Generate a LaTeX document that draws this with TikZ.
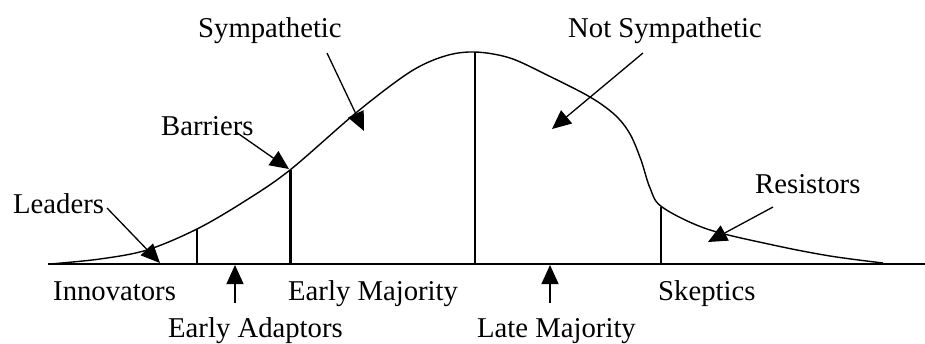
\documentclass[tikz,border=0pt]{standalone}
\usepackage{fontspec}
\setmainfont{Liberation Serif}
\usetikzlibrary{arrows.meta}
\begin{document}
\begin{tikzpicture}[x=1pt,y=-1pt,
  lbl/.style={anchor=base west,inner sep=0pt,font=\fontsize{28.7}{30}\selectfont},
  ptr/.style={line width=1.3pt,-{Triangle[length=19pt,width=17pt]}},
  curve/.style={line width=1.4pt},
  divider/.style={line width=1.3pt}]
\useasboundingbox (0,0) rectangle (925,343);
% axis
\coordinate (axL) at (48,264);
\coordinate (axR) at (925,264);
\draw[line width=1.4pt] (axL) -- (axR);
% bell curve
\draw[curve] plot[smooth,tension=0.55] coordinates {
 (50,264) (100,259) (147,250) (197,229) (245,201) (290,170) (357,112) (410,72)
 (445,56) (475,52) (510,58) (547,75) (590,97) (615,115) (630,134) (641,160) (650,188)
 (662,207) (707,229) (773,245) (830,256) (883,263)};
% dividers
\coordinate (d1b) at (197,264); \coordinate (d1t) at (197,229);
\coordinate (d2b) at (290,264); \coordinate (d2t) at (290,170);
\coordinate (d3b) at (475,264); \coordinate (d3t) at (475,52);
\coordinate (d4b) at (661,264); \coordinate (d4t) at (661,207);
\draw[divider] (d1b) -- (d1t);
\draw[line width=3pt] (d2b) -- (d2t);
\draw[divider] (d3b) -- (d3t);
\draw[divider] (d4b) -- (d4t);
% labels
\node[lbl] (leaders) at (13,213) {Leaders};
\node[lbl] (barriers) at (161,135) {Barriers};
\node[lbl] (symp) at (198,37) {Sympathetic};
\node[lbl] (notsymp) at (568,37) {Not Sympathetic};
\node[lbl] (resist) at (755,193) {Resistors};
\node[lbl] (innov) at (53,300) {Innovators};
\node[lbl] (eadapt) at (168,337) {Early Adaptors};
\node[lbl] (emaj) at (288,300) {Early Majority};
\node[lbl] (lmaj) at (477,337) {Late Majority};
\node[lbl] (skep) at (658,300) {Skeptics};
% pointer ends
\coordinate (leadS) at (107,208); \coordinate (leadT) at (160,263);
\coordinate (barS) at (236,132); \coordinate (barT) at (289,169);
\coordinate (sympS) at (327,53); \coordinate (sympT) at (364,131);
\coordinate (nsS) at (643,53); \coordinate (nsT) at (552,129);
\coordinate (resS) at (773,207); \coordinate (resT) at (708,242);
\coordinate (eaS) at (235,303); \coordinate (eaT) at (235,265);
\coordinate (lmS) at (550,303); \coordinate (lmT) at (550,265);
\draw[ptr] (leadS) -- (leadT);
\draw[ptr] (barS) -- (barT);
\draw[ptr] (sympS) -- (sympT);
\draw[ptr] (nsS) -- (nsT);
\draw[ptr] (resS) -- (resT);
\draw[ptr] (eaS) -- (eaT);
\draw[ptr] (lmS) -- (lmT);
\end{tikzpicture}
\end{document}
